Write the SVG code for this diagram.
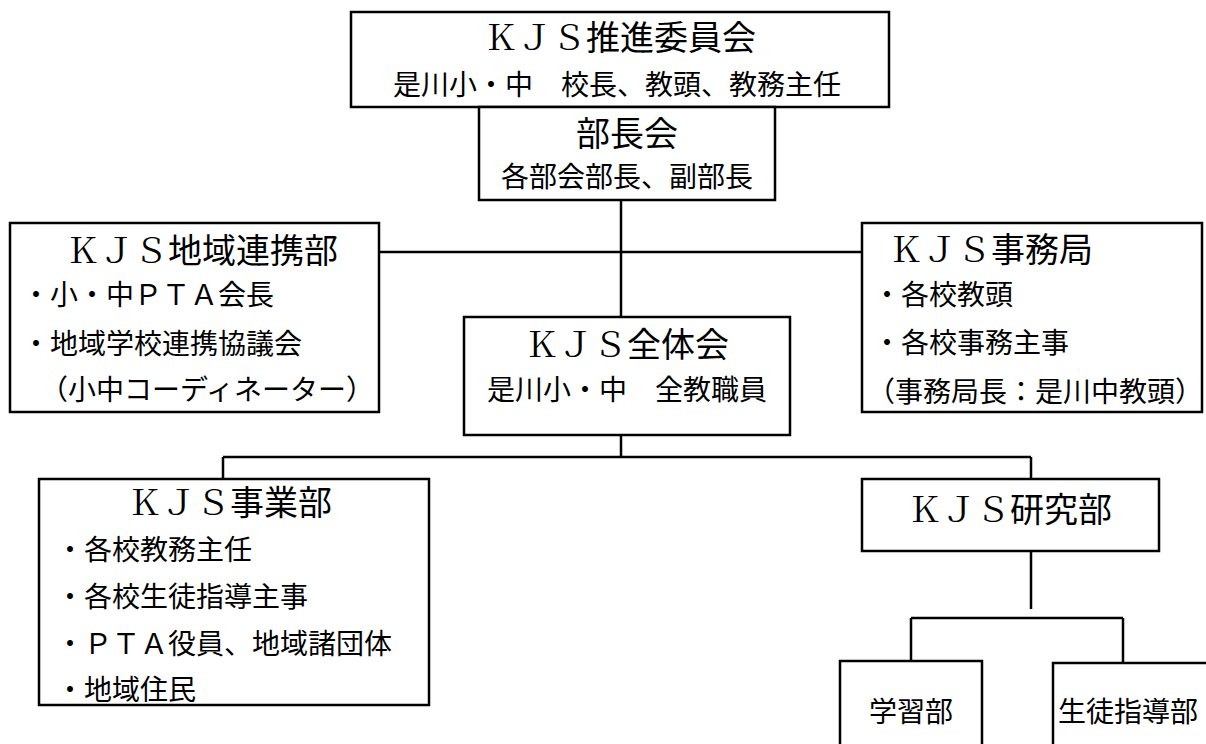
<svg xmlns="http://www.w3.org/2000/svg" width="1206" height="744" viewBox="0 0 1206 744">
<style>
  .box { fill: #ffffff; stroke: #000000; stroke-width: 2.5; }
  .ln { fill: none; stroke: #000000; stroke-width: 2.5; }
  text { font-family: "Noto Sans CJK JP", "Noto Sans CJK SC", sans-serif; fill: #000000; }
  .t { font-size: 34px; }
  .s { font-size: 28px; }
  .c { text-anchor: middle; }
  .k { font-family: "Noto Serif CJK JP", "Noto Sans CJK JP", serif; }
</style>
<rect width="1206" height="744" fill="#ffffff"/>
<g id="connectors">
  <line class="ln" x1="621" y1="200" x2="621" y2="317"/>
  <line class="ln" x1="379" y1="252" x2="862" y2="252"/>
  <line class="ln" x1="621" y1="435" x2="621" y2="457"/>
  <line class="ln" x1="223" y1="457" x2="1031" y2="457"/>
  <line class="ln" x1="223" y1="457" x2="223" y2="479"/>
  <line class="ln" x1="1031" y1="457" x2="1031" y2="479"/>
  <line class="ln" x1="1031" y1="551" x2="1031" y2="609"/>
  <line class="ln" x1="911" y1="618" x2="1123" y2="618"/>
  <line class="ln" x1="911" y1="618" x2="911" y2="661"/>
  <line class="ln" x1="1123" y1="618" x2="1123" y2="663"/>
</g>
<g id="suishin">
  <rect class="box" x="351" y="12" width="538" height="95"/>
  <text class="t c" x="620" y="50"><tspan class="k">ＫＪＳ</tspan>推進委員会</text>
  <text class="s c" x="617" y="95">是川小・中　校長、教頭、教務主任</text>
</g>
<g id="buchokai">
  <rect class="box" x="479" y="107" width="296" height="93"/>
  <text class="t c" x="627" y="146">部長会</text>
  <text class="s c" x="627" y="187">各部会部長、副部長</text>
</g>
<g id="chiiki">
  <rect class="box" x="10" y="223" width="369" height="189"/>
  <text class="t" x="66" y="263"><tspan class="k">ＫＪＳ</tspan>地域連携部</text>
  <text class="s" x="22" y="305">・小・中ＰＴＡ会長</text>
  <text class="s" x="22" y="354">・地域学校連携協議会</text>
  <text class="s" x="40" y="400">（小中コーディネーター）</text>
</g>
<g id="jimukyoku">
  <rect class="box" x="862" y="223" width="340" height="189"/>
  <text class="t" x="889" y="262"><tspan class="k">ＫＪＳ</tspan>事務局</text>
  <text class="s" x="873" y="305">・各校教頭</text>
  <text class="s" x="873" y="353">・各校事務主事</text>
  <text class="s" x="867" y="402">（事務局長：是川中教頭）</text>
</g>
<g id="zentaikai">
  <rect class="box" x="464" y="317" width="326" height="118"/>
  <text class="t c" x="627" y="357"><tspan class="k">ＫＪＳ</tspan>全体会</text>
  <text class="s c" x="627" y="400">是川小・中　全教職員</text>
</g>
<g id="jigyobu">
  <rect class="box" x="39" y="479" width="390" height="226"/>
  <text class="t c" x="230" y="515"><tspan class="k">ＫＪＳ</tspan>事業部</text>
  <text class="s" x="56" y="560">・各校教務主任</text>
  <text class="s" x="56" y="607">・各校生徒指導主事</text>
  <text class="s" x="56" y="654">・ＰＴＡ役員、地域諸団体</text>
  <text class="s" x="56" y="700">・地域住民</text>
</g>
<g id="kenkyubu">
  <rect class="box" x="862" y="479" width="297" height="72"/>
  <text class="t c" x="1010" y="522"><tspan class="k">ＫＪＳ</tspan>研究部</text>
</g>
<g id="gakushubu">
  <rect class="box" x="840" y="661" width="142" height="100"/>
  <text class="s c" x="911" y="722">学習部</text>
</g>
<g id="seitoshidobu">
  <rect class="box" x="1053" y="663" width="170" height="100"/>
  <text class="s" x="1058" y="722">生徒指導部</text>
</g>
</svg>
